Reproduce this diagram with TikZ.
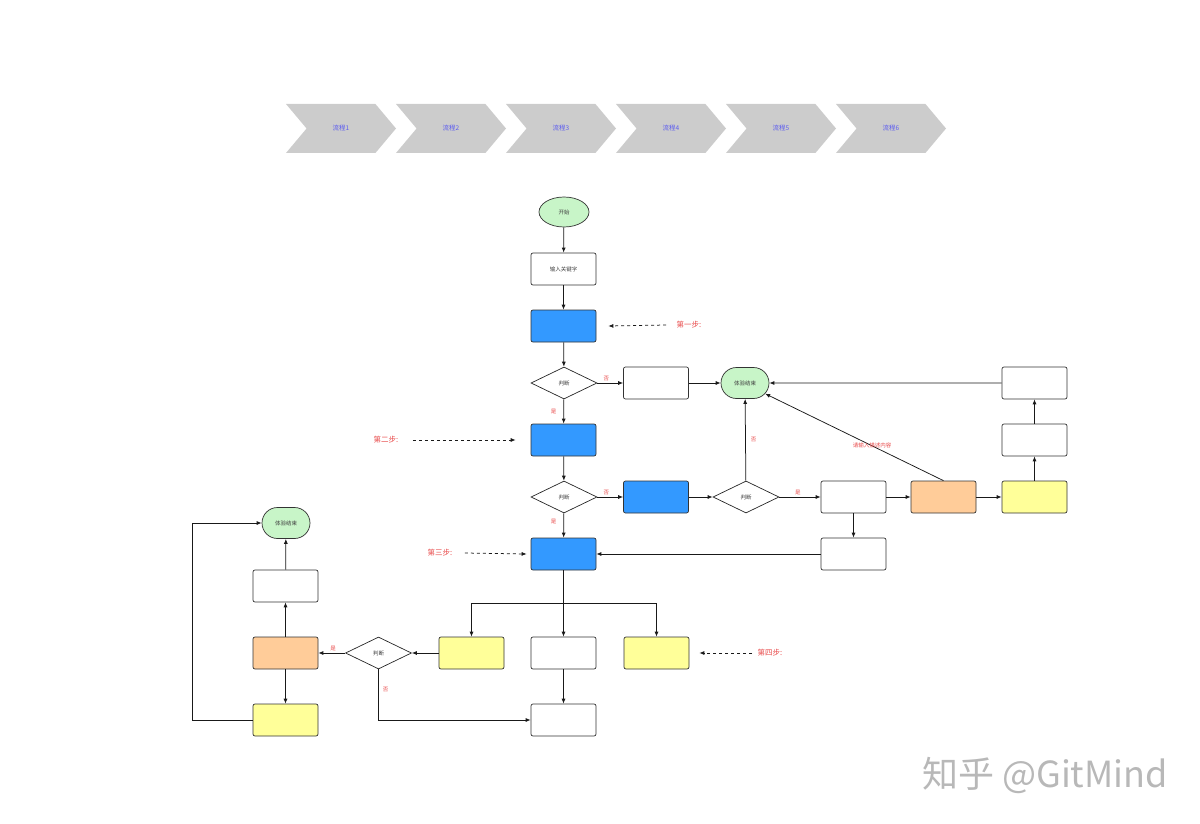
\documentclass[tikz,border=0pt]{standalone}
\usepackage{fontspec}
\setmainfont{Noto Sans CJK SC}
\usetikzlibrary{positioning,arrows.meta,calc,shapes.geometric,shapes.symbols,shapes.misc}
\definecolor{stepblue}{HTML}{3399FF}
\definecolor{endgreen}{HTML}{C8F5C8}
\definecolor{warmorange}{HTML}{FFCC99}
\definecolor{softyellow}{HTML}{FFFF99}
\definecolor{chevgray}{HTML}{CCCCCC}
\definecolor{chevtext}{HTML}{5B5BF0}
\definecolor{labelred}{HTML}{E84A4A}

\begin{document}
\begin{tikzpicture}[x=1pt, y=-1pt,
  box/.style={draw=black!80, line width=0.7pt, rounded corners=2pt, minimum width=65pt, minimum height=32pt, inner sep=0pt, font=\fontsize{5.5}{6}\selectfont, text=black!75},
  blue box/.style={box, fill=stepblue},
  orange box/.style={box, fill=warmorange},
  yellow box/.style={box, fill=softyellow},
  judge/.style={diamond, aspect=2, draw=black!85, line width=0.7pt, minimum width=66pt, minimum height=32pt, inner sep=0pt, font=\fontsize{5.5}{6}\selectfont, text=black!75},
  finish/.style={rounded rectangle, draw=black!80, line width=0.7pt, fill=endgreen, minimum width=48pt, minimum height=31pt, inner sep=0pt, font=\fontsize{5.5}{6}\selectfont, text=black!75},
  chevron/.style={signal, signal to=east, signal from=west, signal pointer angle=100, fill=chevgray, minimum width=110pt, minimum height=49pt, inner sep=0pt, text=chevtext, font=\fontsize{6.5}{7}\selectfont},
  flow arrow/.style={-{Latex[length=5pt,width=4pt]}, line width=0.75pt, draw=black!90},
  hint arrow/.style={-{Latex[length=5pt,width=4pt]}, dashed, line width=0.75pt, draw=black!90},
  yes no/.style={font=\fontsize{5.5}{6}\selectfont, text=labelred, inner sep=1pt},
  step label/.style={font=\fontsize{7.5}{8}\selectfont, text=labelred}
]
\path[use as bounding box] (0,0) rectangle (1200,824);

% process bar
\node[chevron] (p1) at (341,128.5) {流程1};
\node[chevron] (p2) at (451,128.5) {流程2};
\node[chevron] (p3) at (561,128.5) {流程3};
\node[chevron] (p4) at (671,128.5) {流程4};
\node[chevron] (p5) at (781,128.5) {流程5};
\node[chevron] (p6) at (891,128.5) {流程6};

% main column
\node[ellipse, draw=black!80, line width=0.7pt, fill=endgreen, minimum width=50pt, minimum height=30pt, inner sep=0pt, font=\fontsize{5.5}{6}\selectfont, text=black!75] (start) at (564,212) {开始};
\node[box] (keyword) at (563.5,269) {输入关键字};
\node[blue box] (b1) at (563.5,326) {};
\node[judge] (j1) at (564,383) {判断};
\node[blue box] (b2) at (563.5,440) {};
\node[judge] (j2) at (564,497) {判断};
\node[blue box] (b3) at (563.5,554) {};

% upper right branch
\node[box] (skip) at (656,383) {};
\node[finish] (end1) at (745,383) {体验结束};
\node[blue box] (b4) at (656,497) {};
\node[judge] (j3) at (746,497) {判断};
\node[box] (mid) at (853.5,497) {};
\node[orange box] (warm) at (943.5,497) {};
\node[yellow box] (r1) at (1034.5,497) {};
\node[box] (r2) at (1034.5,440) {};
\node[box] (r3) at (1034.5,383) {};
\node[box] (back) at (853.5,554) {};

% lower branch
\node[yellow box] (lft) at (471.5,653) {};
\node[box] (ctr) at (563.5,653) {};
\node[yellow box] (rgt) at (656.5,653) {};
\node[box] (bottom) at (563.5,720) {};
\node[judge] (j4) at (378.5,653) {判断};
\node[orange box] (warm2) at (285.5,653) {};
\node[box] (l2) at (285.5,586) {};
\node[yellow box] (l1) at (285.5,720) {};
\node[finish] (end2) at (286,523) {体验结束};

% step hints
\node[step label] (h1) at (689,325) {第一步:};
\node[step label] (h2) at (386,440) {第二步:};
\node[step label] (h3) at (440,553) {第三步:};
\node[step label] (h4) at (770,653) {第四步:};
\draw[hint arrow] ($(h1.west)+(-7,0)$) -- ($(b1.east)+(12,0)$);
\draw[hint arrow] ($(h2.east)+(11,0)$) -- ($(b2.west)+(-15,0)$);
\draw[hint arrow] ($(h3.east)+(9,0)$) -- ($(b3.west)+(-4,0)$);
\draw[hint arrow] ($(h4.west)+(-2,0)$) -- ($(rgt.east)+(10,0)$);

% main flow
\draw[flow arrow] (start) -- (keyword);
\draw[flow arrow] (keyword) -- (b1);
\draw[flow arrow] (b1) -- (j1);
\draw[flow arrow] (j1) -- node[yes no, above=1pt, pos=0.35] {否} (skip);
\draw[flow arrow] (skip) -- (end1);
\draw[flow arrow] (j1) -- node[yes no, left=6pt] {是} (b2);
\draw[flow arrow] (b2) -- (j2);
\draw[flow arrow] (j2) -- node[yes no, above=1pt, pos=0.35] {否} (b4);
\draw[flow arrow] (j2) -- node[yes no, left=6pt, pos=0.35] {是} (b3);
\draw[flow arrow] (b4) -- (j3);
\draw[flow arrow] (j3) -- node[yes no, right=4pt] {否} (end1);
\draw[flow arrow] (j3) -- node[yes no, above=1pt, pos=0.45] {是} (mid);
\draw[flow arrow] (mid) -- (warm);
\draw[flow arrow] (warm) -- (r1);
\draw[flow arrow] (r1) -- (r2);
\draw[flow arrow] (r2) -- (r3);
\draw[flow arrow] (r3) -- (end1);
\draw[flow arrow] (warm.north) -- node[yes no, pos=0.4] {请输入描述内容} (end1.-28);
\draw[flow arrow] (mid) -- (back);
\draw[flow arrow] (back) -- (b3);

% fan out below
\draw[flow arrow] (b3) -- (ctr);
\draw[flow arrow] (b3.south) -- ++(0,33) -| (lft.north);
\draw[flow arrow] (b3.south) -- ++(0,33) -| (rgt.north);
\draw[flow arrow] (ctr) -- (bottom);
\draw[flow arrow] (lft) -- (j4);
\draw[flow arrow] (j4) -- node[yes no, above=1pt, pos=0.45] {是} (warm2);
\draw[flow arrow] (j4.south) |- node[yes no, pos=0.2, right=3pt] {否} (bottom.west);
\draw[flow arrow] (warm2) -- (l2);
\draw[flow arrow] (l2) -- (end2);
\draw[flow arrow] (warm2) -- (l1);
\draw[flow arrow] (l1.west) -- ++(-60,0) |- (end2.west);

% watermark
\node[text=black!28, font=\fontsize{36}{40}\selectfont, anchor=center] (mark) at (1045,775) {知乎 @GitMind};
\end{tikzpicture}
\end{document}
